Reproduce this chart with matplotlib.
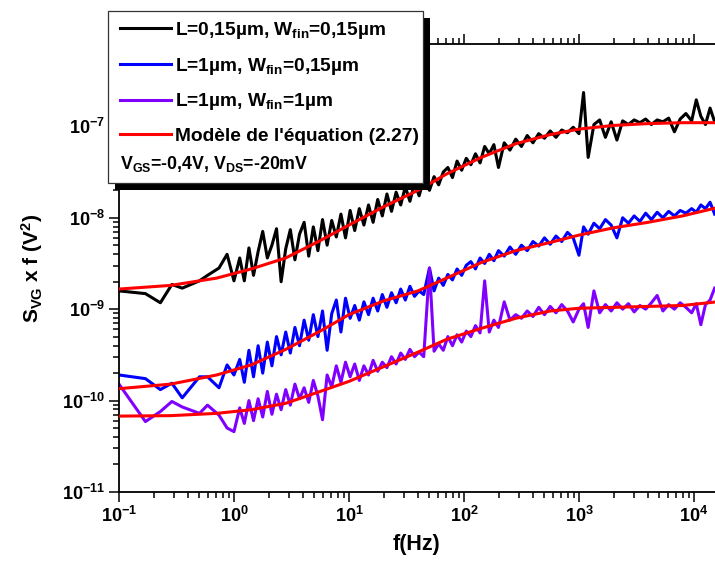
import numpy as np
import matplotlib
matplotlib.use("Agg")
import matplotlib.pyplot as plt
from matplotlib.lines import Line2D
from matplotlib.patches import Rectangle
from matplotlib.ticker import LogLocator, NullFormatter

# log10 de la fréquence (Hz), grille commune aux trois mesures
log_f = [-1.00, -0.77, -0.64, -0.54, -0.45, -0.30, -0.23, -0.13, -0.06, 0.00,
         0.05, 0.09, 0.13, 0.17, 0.21, 0.25, 0.29, 0.33, 0.37, 0.41,
         0.45, 0.49, 0.53, 0.57, 0.61, 0.65, 0.69, 0.73, 0.77, 0.81,
         0.85, 0.89, 0.93, 0.97, 1.01, 1.05, 1.09, 1.13, 1.17, 1.21,
         1.25, 1.29, 1.33, 1.37, 1.41, 1.45, 1.49, 1.53, 1.57, 1.61,
         1.65, 1.70, 1.74, 1.78, 1.82, 1.86, 1.90, 1.94, 1.98, 2.02,
         2.06, 2.10, 2.14, 2.18, 2.22, 2.26, 2.30, 2.35, 2.40, 2.45,
         2.50, 2.55, 2.60, 2.65, 2.70, 2.75, 2.80, 2.85, 2.90, 2.95,
         3.00, 3.04, 3.08, 3.13, 3.18, 3.23, 3.28, 3.33, 3.38, 3.43,
         3.48, 3.53, 3.58, 3.63, 3.68, 3.73, 3.78, 3.83, 3.88, 3.93,
         3.98, 4.02, 4.06, 4.10, 4.14, 4.18]

# log10(S_VG x f) mesuré
log_s_l015_w015 = [-8.80, -8.83, -8.93, -8.73, -8.77, -8.69, -8.63, -8.55, -8.40, -8.69,
                   -8.44, -8.69, -8.33, -8.63, -8.37, -8.15, -8.44, -8.30, -8.12, -8.70,
                   -8.34, -8.13, -8.46, -8.18, -8.05, -8.42, -8.10, -8.36, -8.02, -8.30,
                   -8.03, -8.21, -7.96, -8.22, -7.92, -8.14, -7.90, -8.08, -7.86, -8.05,
                   -7.80, -7.98, -7.74, -7.93, -7.72, -7.86, -7.66, -7.82, -7.62, -7.76,
                   -7.58, -7.70, -7.55, -7.64, -7.50, -7.45, -7.56, -7.38, -7.48, -7.35,
                   -7.42, -7.30, -7.40, -7.22, -7.30, -7.20, -7.45, -7.18, -7.26, -7.14,
                   -7.22, -7.10, -7.18, -7.08, -7.13, -7.05, -7.12, -7.04, -7.07, -7.01,
                   -7.08, -6.63, -7.34, -6.98, -6.93, -7.12, -6.95, -7.15, -6.94, -6.98,
                   -6.93, -6.96, -6.92, -6.98, -6.93, -6.95, -6.91, -7.06, -6.92, -6.86,
                   -6.94, -6.71, -6.89, -6.98, -6.80, -6.95]

log_s_l1_w015 = [-9.72, -9.76, -9.88, -9.81, -9.97, -9.74, -9.74, -9.86, -9.61, -9.72,
                 -9.55, -9.80, -9.45, -9.74, -9.40, -9.70, -9.36, -9.62, -9.30, -9.50,
                 -9.25, -9.48, -9.20, -9.40, -9.12, -9.34, -9.06, -9.30, -9.02, -9.45,
                 -9.05, -8.90, -9.25, -8.88, -9.10, -8.96, -9.12, -8.92, -9.06, -8.88,
                 -9.02, -8.84, -8.98, -8.82, -8.93, -8.78, -8.90, -8.75, -8.86, -8.80,
                 -8.84, -8.55, -8.80, -8.66, -8.74, -8.62, -8.68, -8.56, -8.63, -8.52,
                 -8.48, -8.56, -8.44, -8.50, -8.40, -8.47, -8.36, -8.42, -8.32, -8.40,
                 -8.30, -8.36, -8.26, -8.31, -8.22, -8.29, -8.20, -8.26, -8.16, -8.22,
                 -8.41, -8.10, -8.18, -8.06, -8.12, -8.02, -8.08, -8.22, -8.00, -8.06,
                 -7.98, -8.04, -7.95, -8.02, -7.94, -8.00, -7.93, -7.98, -7.92, -7.95,
                 -7.90, -7.94, -7.86, -7.90, -7.83, -7.96]

log_s_l1_w1 = [-9.82, -10.23, -10.12, -10.01, -10.07, -10.14, -10.05, -10.16, -10.30, -10.34,
               -10.08, -10.25, -10.00, -10.22, -9.98, -10.18, -9.90, -10.15, -9.93, -10.10,
               -9.88, -10.05, -9.82, -9.98, -9.86, -10.02, -9.78, -9.95, -10.21, -9.72,
               -9.85, -9.62, -9.80, -9.58, -9.74, -9.60, -9.78, -9.62, -9.72, -9.56,
               -9.68, -9.58, -9.64, -9.52, -9.60, -9.48, -9.55, -9.44, -9.52, -9.47,
               -9.52, -8.55, -9.46, -9.38, -9.45, -9.30, -9.40, -9.28, -9.36, -9.24,
               -9.30, -9.18, -9.26, -8.69, -9.25, -9.12, -9.20, -8.92, -9.12, -9.06,
               -9.10, -9.02, -9.08, -8.98, -9.06, -8.97, -9.04, -8.95, -9.02, -9.14,
               -9.00, -8.94, -9.20, -8.80, -9.04, -8.95, -9.02, -8.93, -9.00, -8.94,
               -9.03, -8.96, -9.00, -8.93, -8.85, -9.02, -8.95, -9.00, -8.93, -8.98,
               -9.04, -8.94, -9.17, -8.95, -8.90, -8.77]

# modèle de l'équation (2.27), log10
log_f_fit = [-1.0, -0.55, -0.15, 0.15, 0.45, 0.75, 1.0, 1.3, 1.6,
             1.85, 2.15, 2.45, 2.75, 3.0, 3.3, 3.6, 3.9, 4.2]
log_fit_l015_w015 = [-8.78, -8.74, -8.66, -8.56, -8.44, -8.25, -8.08, -7.88, -7.70,
                     -7.52, -7.34, -7.19, -7.09, -7.03, -6.99, -6.97, -6.96, -6.96]
log_fit_l1_w015 = [-9.87, -9.82, -9.72, -9.61, -9.44, -9.24, -9.06, -8.91, -8.80,
                   -8.66, -8.49, -8.36, -8.27, -8.19, -8.11, -8.05, -7.98, -7.89]
log_fit_l1_w1 = [-10.17, -10.165, -10.14, -10.10, -10.03, -9.90, -9.79, -9.63, -9.47,
                 -9.33, -9.21, -9.10, -9.02, -8.99, -8.98, -8.97, -8.96, -8.92]

x_ticks = [1e-1, 1e0, 1e1, 1e2, 1e3, 1e4]
y_ticks = [1e-11, 1e-10, 1e-9, 1e-8, 1e-7]

labels = [r"L=0,15µm, W$_{fin}$=0,15µm",
          r"L=1µm, W$_{fin}$=0,15µm",
          r"L=1µm, W$_{fin}$=1µm",
          "Modèle de l'équation (2.27)"]
bias_label = r"V$_{GS}$=-0,4V, V$_{DS}$=-20mV"

plt.rcParams["font.family"] = ["Liberation Sans", "DejaVu Sans"]
plt.rcParams["font.weight"] = "bold"
plt.rcParams["mathtext.fontset"] = "custom"
plt.rcParams["mathtext.rm"] = "Liberation Sans:bold"
plt.rcParams["mathtext.it"] = "Liberation Sans:bold"
plt.rcParams["mathtext.bf"] = "Liberation Sans:bold"
plt.rcParams["mathtext.default"] = "rm"
plt.rcParams["axes.unicode_minus"] = False

W, H = 715, 562
fig = plt.figure(figsize=(W / 100, H / 100), dpi=100)
ax = fig.add_axes([0.1664, 0.1246, 0.8336, 0.7971])

f = 10 ** np.array(log_f)
f_fit = 10 ** np.array(log_f_fit)
lw = 2.2
ax.plot(f, 10 ** np.array(log_s_l015_w015), color="black", lw=lw, zorder=2)
ax.plot(f, 10 ** np.array(log_s_l1_w015), color="#0000ff", lw=lw, zorder=2)
ax.plot(f, 10 ** np.array(log_s_l1_w1), color="#8000ff", lw=lw, zorder=2)
for fit in [log_fit_l015_w015, log_fit_l1_w015, log_fit_l1_w1]:
    ax.plot(f_fit, 10 ** np.array(fit), color="#ff0000", lw=lw, zorder=3)

ax.set_xscale("log")
ax.set_yscale("log")
ax.set_xlim(0.1, 1.524e4)
ax.set_ylim(1e-11, 7.96e-7)
ax.set_xticks(x_ticks)
ax.set_yticks(y_ticks)
ax.yaxis.set_minor_locator(LogLocator(base=10, subs=np.arange(2, 10), numticks=20))
ax.xaxis.set_minor_locator(LogLocator(base=10, subs=np.arange(2, 10), numticks=20))
ax.xaxis.set_minor_formatter(NullFormatter())
ax.yaxis.set_minor_formatter(NullFormatter())

ax.spines["right"].set_visible(False)
for s in ["left", "bottom", "top"]:
    ax.spines[s].set_linewidth(1.3)
ax.tick_params(which="both", direction="out", top=True, right=False, width=1.1)
ax.tick_params(which="major", length=7, labelsize=13, pad=3)
ax.tick_params(which="minor", length=4)
ax.tick_params(axis="x", which="both", labeltop=False)

ax.set_xlabel("f(Hz)", fontsize=15.5, fontweight="bold", labelpad=6)
ax.set_ylabel(r"S$_{VG}$ x f (V$^2$)", fontsize=15, fontweight="bold", labelpad=12)

# cadre de la légende avec son ombre noire (style Origin)
box_l, box_t, box_r, box_b = 108, 11, 423, 183
shadow = Rectangle(((box_l + 7) / W, 1 - (box_b + 7) / H), (box_r - box_l) / W,
                   (box_b - box_t) / H, transform=fig.transFigure,
                   facecolor="black", edgecolor="none", zorder=2.9)
frame = Rectangle((box_l / W, 1 - box_b / H), (box_r - box_l) / W,
                  (box_b - box_t) / H, transform=fig.transFigure,
                  facecolor="white", edgecolor="#333333", lw=0.9, zorder=3)
fig.add_artist(shadow)
fig.add_artist(frame)

handles = [Line2D([], [], color="black", lw=lw),
           Line2D([], [], color="#0000ff", lw=lw),
           Line2D([], [], color="#8000ff", lw=lw),
           Line2D([], [], color="#ff0000", lw=lw)]
leg = fig.legend(handles, labels, loc="upper left",
                 bbox_to_anchor=(110 / W, 1 - 10 / H),
                 bbox_transform=fig.transFigure, borderaxespad=0,
                 fontsize=13.8, handlelength=2.7, handletextpad=0.2,
                 borderpad=0.5, labelspacing=0.78, frameon=False)
leg.set_zorder(4)

fig.text(120 / W, 1 - 169 / H, bias_label, fontsize=12.8, fontweight="bold",
         ha="left", va="baseline", zorder=5)

fig.savefig("out.png", dpi=100)
